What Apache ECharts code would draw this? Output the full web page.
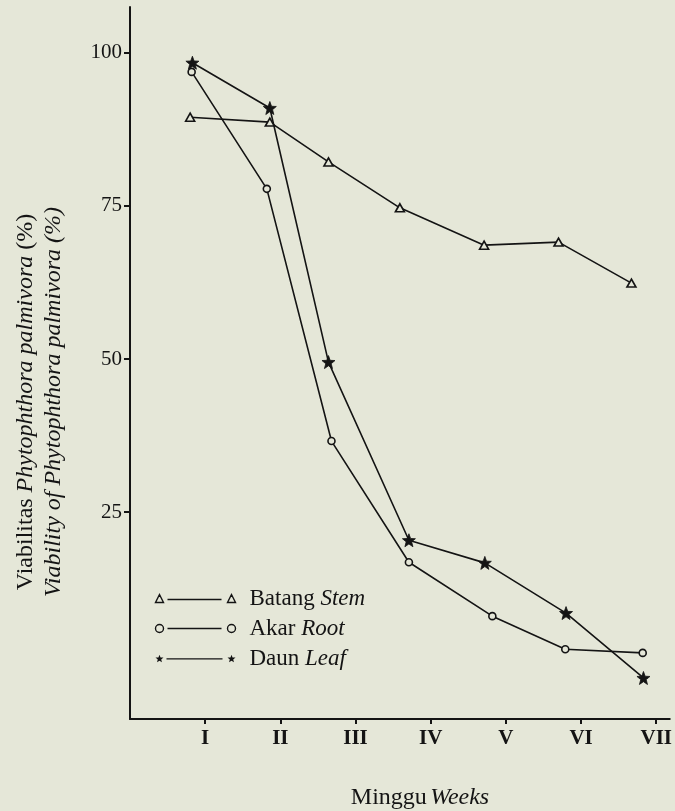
<!DOCTYPE html>
<html>
<head>
<meta charset="utf-8">
<script src="https://cdn.jsdelivr.net/npm/echarts@6/dist/echarts.min.js"></script>
<style>
html,body{margin:0;padding:0;background:#e5e7d8;}
#chart{width:675px;height:811px;}
</style>
</head>
<body>
<div id="chart"></div>
<script>
// ---- data ----
const weekTicks = [1, 2, 3, 4, 5, 6, 7];
const weekLabels = ['I', 'II', 'III', 'IV', 'V', 'VI', 'VII'];
const yTicks = [25, 50, 75, 100];

const batangX = [0.80, 1.86, 2.64, 3.59, 4.71, 5.70, 6.67];
const batangY = [89.5, 88.7, 82.2, 74.7, 68.6, 69.1, 62.4];
const akarX = [0.82, 1.82, 2.68, 3.71, 4.82, 5.79, 6.82];
const akarY = [96.9, 77.8, 36.6, 16.8, 8.0, 2.6, 2.0];
const daunX = [0.83, 1.86, 2.64, 3.71, 4.72, 5.80, 6.83];
const daunY = [98.4, 91.0, 49.5, 20.4, 16.7, 8.5, -2.1];

const seriesNames = ['Batang', 'Akar', 'Daun'];
const seriesEnglish = ['Stem', 'Root', 'Leaf'];

// ---- styling helpers ----
const BG = '#e5e7d8';
const INK = '#141414';
const FONT = '"Liberation Serif", "DejaVu Serif", serif';

function starPoints(cx, cy, ro, ri) {
  const pts = [];
  for (let k = 0; k < 10; k++) {
    const a = -Math.PI / 2 + k * Math.PI / 5;
    const r = k % 2 === 0 ? ro : ri;
    pts.push((cx + r * Math.cos(a)).toFixed(2) + ' ' + (cy + r * Math.sin(a)).toFixed(2));
  }
  return 'M' + pts.join(' L') + ' Z';
}
const starSymbol = 'path://' + starPoints(10, 10, 10, 4.2);

const legendIcons = {
  Batang: 'path://M0 8 L4 0 L8 8 Z M12 5 L66 5 M72 8 L76 0 L80 8 Z',
  Akar: 'path://M0 4 A4 4 0 1 1 8 4 A4 4 0 1 1 0 4 Z M12 4 L66 4 M72 4 A4 4 0 1 1 80 4 A4 4 0 1 1 72 4 Z',
  Daun: 'path://' + starPoints(4, 4.2, 4.2, 1.8) + ' M11 3.6 L67 3.6 L67 4.8 L11 4.8 Z ' + starPoints(76, 4.2, 4.2, 1.8)
};

function pairs(xs, ys) { return xs.map((x, i) => [x, ys[i]]); }

const chart = echarts.init(document.getElementById('chart'), null, {renderer: 'canvas'});

const baseSeries = {
  type: 'line',
  lineStyle: {color: INK, width: 1.6},
  itemStyle: {color: BG, borderColor: INK, borderWidth: 1.6},
  emphasis: {disabled: true},
  animation: false,
  z: 3
};

const option = {
  backgroundColor: BG,
  animation: false,
  grid: {left: 130, right: 0, top: 7, bottom: 92, containLabel: false},
  xAxis: {
    type: 'value',
    min: 0,
    max: 7.18,
    interval: 1,
    axisLine: {show: true, onZero: false, lineStyle: {color: INK, width: 2}},
    axisTick: {show: true, length: 5, lineStyle: {color: INK, width: 2}, customValues: weekTicks},
    axisLabel: {
      customValues: weekTicks,
      margin: 9,
      color: INK,
      fontFamily: FONT,
      fontSize: 21,
      fontWeight: 'bold',
      formatter: v => weekLabels[weekTicks.indexOf(Math.round(v))] || ''
    },
    splitLine: {show: false}
  },
  yAxis: {
    type: 'value',
    min: -8.8,
    max: 107.5,
    axisLine: {show: true, onZero: false, lineStyle: {color: INK, width: 2}},
    axisTick: {show: true, length: 6, lineStyle: {color: INK, width: 2}, customValues: yTicks},
    axisLabel: {
      customValues: yTicks,
      margin: 8,
      color: INK,
      fontFamily: FONT,
      fontSize: 21
    },
    splitLine: {show: false}
  },
  legend: {
    orient: 'vertical',
    left: 148,
    top: 582,
    itemWidth: 80,
    itemHeight: 8,
    itemGap: 7,
    selectedMode: false,
    textStyle: {
      color: INK,
      fontFamily: FONT,
      fontSize: 23,
      lineHeight: 23,
      padding: [0, 0, 0, 9],
      rich: {
        n: {fontFamily: FONT, fontSize: 23, color: INK},
        i: {fontFamily: FONT, fontSize: 23, fontStyle: 'italic', color: INK}
      }
    },
    formatter: name => '{n|' + name + '} {i|' + seriesEnglish[seriesNames.indexOf(name)] + '}',
    data: [
      {name: 'Batang', icon: legendIcons.Batang, itemStyle: {color: 'none', borderColor: INK, borderWidth: 1.4}},
      {name: 'Akar', icon: legendIcons.Akar, itemStyle: {color: 'none', borderColor: INK, borderWidth: 1.4}},
      {name: 'Daun', icon: legendIcons.Daun, itemStyle: {color: INK, borderColor: INK, borderWidth: 0}}
    ]
  },
  graphic: [
    {
      type: 'text',
      x: 40,
      y: 402,
      rotation: Math.PI / 2,
      silent: true,
      style: {
        text: '{n|Viabilitas }{i|Phytophthora palmivora}{n| (%)}\n{i|Viability of Phytophthora palmivora (%)}',
        align: 'center',
        verticalAlign: 'middle',
        lineHeight: 28,
        fill: INK,
        rich: {
          n: {fontFamily: FONT, fontSize: 24, lineHeight: 28, fill: INK},
          i: {fontFamily: FONT, fontSize: 24, lineHeight: 28, fontStyle: 'italic', fill: INK}
        }
      }
    },
    {
      type: 'text',
      x: 420,
      y: 798,
      silent: true,
      style: {
        text: '{n|Minggu} {i|Weeks}',
        align: 'center',
        verticalAlign: 'middle',
        fill: INK,
        rich: {
          n: {fontFamily: FONT, fontSize: 24, fill: INK},
          i: {fontFamily: FONT, fontSize: 24, fontStyle: 'italic', fill: INK}
        }
      }
    }
  ],
  series: [
    Object.assign({}, baseSeries, {
      name: 'Batang',
      data: pairs(batangX, batangY),
      symbol: 'triangle',
      symbolSize: [9, 8]
    }),
    Object.assign({}, baseSeries, {
      name: 'Akar',
      data: pairs(akarX, akarY),
      symbol: 'circle',
      symbolSize: 7
    }),
    Object.assign({}, baseSeries, {
      name: 'Daun',
      data: pairs(daunX, daunY),
      symbol: starSymbol,
      symbolSize: 13,
      itemStyle: {color: INK, borderColor: INK, borderWidth: 0.8}
    })
  ]
};

chart.setOption(option);
</script>
</body>
</html>
